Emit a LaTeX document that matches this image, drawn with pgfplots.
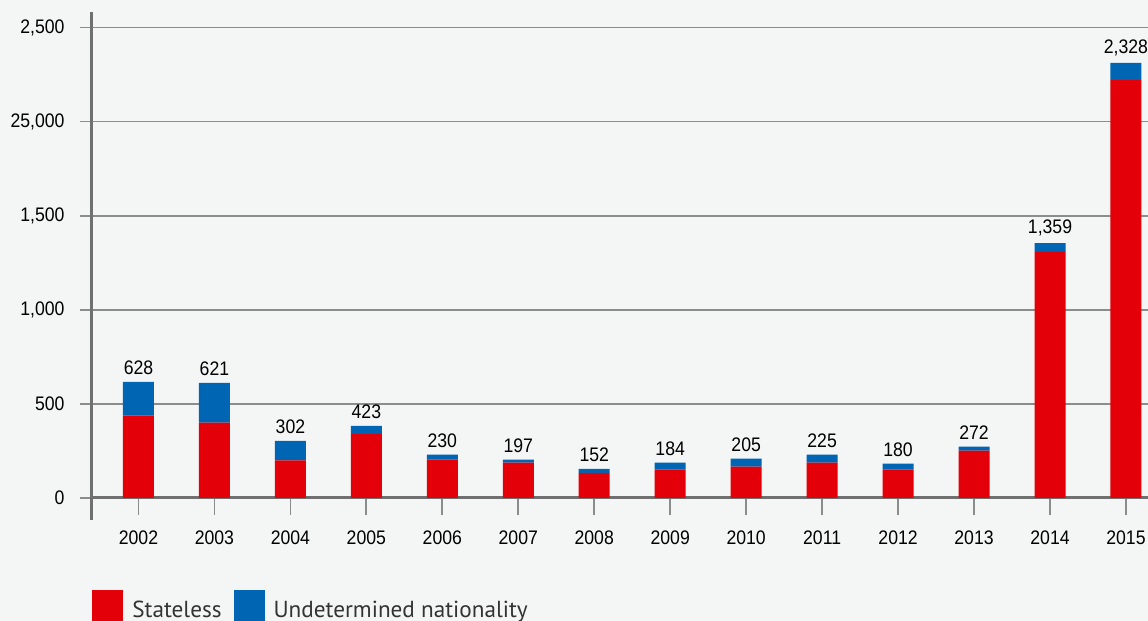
\documentclass[border=0pt]{standalone}
\usepackage{pgfplots}
\pgfplotsset{compat=1.18}
\usepackage{pgfplotstable}
\usepackage{fontspec}
\setmainfont{PT Sans}
\newfontfamily\condfont{Liberation Sans}[FakeStretch=0.9]
\definecolor{bg}{HTML}{F4F5F5}
\definecolor{stred}{HTML}{E30008}
\definecolor{unblue}{HTML}{0066B3}
\definecolor{gridgray}{HTML}{8C8C8C}
\definecolor{axisgray}{HTML}{707070}
\definecolor{legtext}{HTML}{333333}

% stateless / undetermined, bar tops as drawn, and the printed totals
\pgfplotstableread{
x  stateless undet total lab
0  438  179  617  628
1  400  212  612  621
2  200  103  303  302
3  339   44  383  423
4  204   26  230  230
5  188   16  204  197
6  134   21  155  152
7  150   38  188  184
8  166   43  209  205
9  188   42  230  225
10 150   32  182  180
11 252   21  273  272
12 1307  47  1354 1,359
13 2220  92  2312 2,328
}\data

\pgfplotsset{
  frame/.style={
    at={(46pt,50.5pt)}, anchor=south west,
    scale only axis,
    width=528pt, height=254pt,
    xmin=-0.612, xmax=13.29,
    ymin=-117, ymax=2582,
  },
}

\begin{document}
\begin{tikzpicture}
\useasboundingbox (0,0) rectangle (574pt,310.5pt);
\clip (0,0) rectangle (574pt,310.5pt);
\fill[bg] (0,0) rectangle (574pt,310.5pt);
\begin{axis}[
  frame,
  ybar stacked,
  bar width=15.5pt,
  axis y line*=left,
  axis x line*=middle,
  axis line style={draw=axisgray, line width=1.5pt},
  xtick={0,...,13},
  xticklabels={2002,2003,2004,2005,2006,2007,2008,2009,2010,2011,2012,2013,2014,2015},
  ytick={0,500,1000,1500,2000,2500},
  yticklabels={0,500,{1,000},{1,500},{25,000},{2,500}},
  ymajorgrids,
  grid style={draw=gridgray, line width=0.9pt},
  tick align=outside,
  major tick length=6pt,
  tick style={draw=gridgray, line width=0.9pt},
  xtick style={/pgfplots/major tick length=8.5pt},
  tick label style={font=\condfont\fontsize{9.8}{12}\selectfont, text=black},
  yticklabel style={xshift=-4.2pt},
  xticklabel style={yshift=-6.7pt},
  legend columns=2,
  legend cell align=left,
  legend style={at={(rel axis cs:0,-0.1378)}, anchor=north west,
    draw=none, fill=none, inner sep=0pt,
    /tikz/every even column/.append style={column sep=4pt},
    font=\fontsize{11.6}{14}\selectfont, text=legtext},
  every axis plot post/.append style={
    legend image code/.code={\fill[##1] (0pt,-5.5pt) rectangle (15.5pt,10pt); \path (18pt,0pt);}},
]
\addplot[fill=stred, draw=none] table[x=x, y=stateless] {\data};
\addlegendentry{Stateless}
\addplot[fill=unblue, draw=none] table[x=x, y=undet] {\data};
\addlegendentry{Undetermined nationality}
\end{axis}
% same frame, unstacked: the printed totals above the bars
\begin{axis}[frame, hide axis]
\addplot[draw=none, mark=none, nodes near coords, point meta=explicit symbolic,
  every node near coord/.append style={anchor=south, font=\condfont\fontsize{9.8}{12}\selectfont, text=black}]
  table[x=x, y=total, meta=lab] {\data};
\end{axis}
\end{tikzpicture}
\end{document}
